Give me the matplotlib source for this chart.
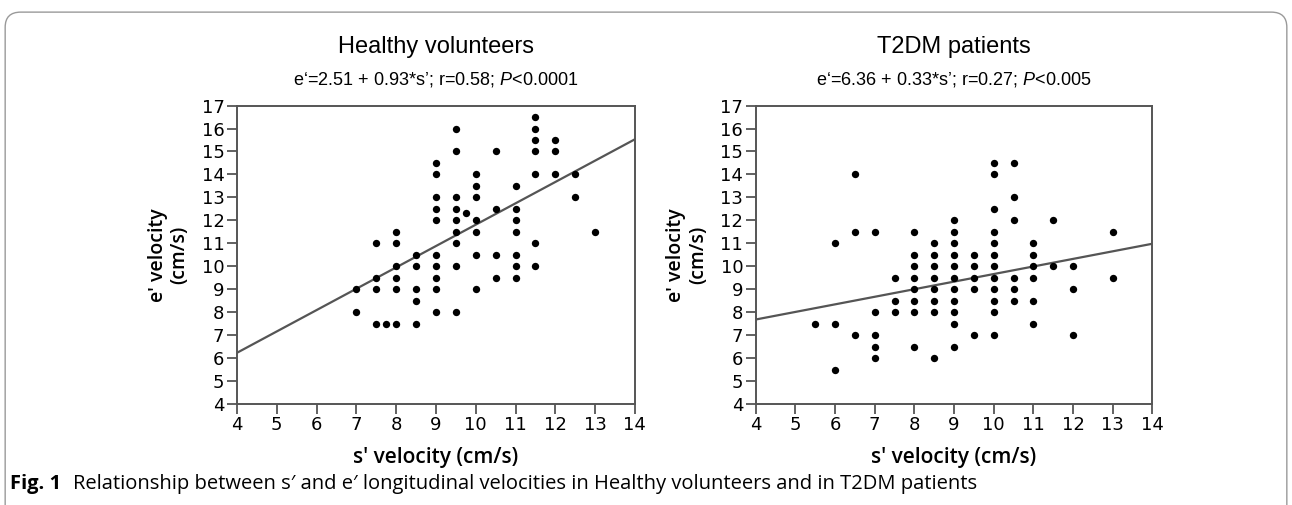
import matplotlib
matplotlib.use('Agg')
import matplotlib.pyplot as plt
from matplotlib.patches import FancyBboxPatch
import numpy as np

# Healthy volunteers: s' values and e' values
hv_s = [7, 7,
        7.5, 7.5, 7.5, 7.5, 7.75,
        8, 8, 8, 8, 8, 8,
        8.5, 8.5, 8.5, 8.5, 8.5,
        9, 9, 9, 9, 9, 9, 9, 9, 9, 9,
        9.5, 9.5, 9.5, 9.5, 9.5, 9.5, 9.5, 9.5, 9.5,
        9.75,
        10, 10, 10, 10, 10, 10, 10,
        10.5, 10.5, 10.5, 10.5,
        11, 11, 11, 11, 11, 11, 11,
        11.5, 11.5, 11.5, 11.5, 11.5, 11.5, 11.5,
        12, 12, 12,
        12.5, 12.5,
        13]
hv_e = [9, 8,
        11, 9.5, 9, 7.5, 7.5,
        11.5, 11, 10, 9.5, 9, 7.5,
        10.5, 10, 9, 8.5, 7.5,
        14.5, 14, 13, 12.5, 12, 10.5, 10, 9.5, 9, 8,
        16, 15, 13, 12.5, 12, 11.5, 11, 10, 8,
        12.3,
        14, 13.5, 13, 12, 11.5, 10.5, 9,
        15, 12.5, 10.5, 9.5,
        13.5, 12.5, 12, 11.5, 10.5, 10, 9.5,
        16.5, 16, 15.5, 15, 14, 11, 10,
        15.5, 15, 14,
        14, 13,
        11.5]

# T2DM patients
dm_s = [5.5,
        6, 6, 6,
        6.5, 6.5, 6.5,
        7, 7, 7, 7, 7,
        7.5, 7.5, 7.5,
        8, 8, 8, 8, 8, 8, 8, 8,
        8.5, 8.5, 8.5, 8.5, 8.5, 8.5, 8.5, 8.5,
        9, 9, 9, 9, 9, 9, 9, 9, 9, 9, 9,
        9.5, 9.5, 9.5, 9.5, 9.5,
        10, 10, 10, 10, 10, 10, 10, 10, 10, 10, 10, 10,
        10.5, 10.5, 10.5, 10.5, 10.5, 10.5,
        11, 11, 11, 11, 11, 11,
        11.5, 11.5,
        12, 12, 12,
        13, 13]
dm_e = [7.5,
        11, 7.5, 5.5,
        14, 11.5, 7,
        11.5, 8, 7, 6.5, 6,
        9.5, 8.5, 8,
        11.5, 10.5, 10, 9.5, 9, 8.5, 8, 6.5,
        11, 10.5, 10, 9.5, 9, 8.5, 8, 6,
        12, 11.5, 11, 10.5, 10, 9.5, 9, 8.5, 8, 7.5, 6.5,
        10.5, 10, 9.5, 9, 7,
        14.5, 14, 12.5, 11.5, 11, 10.5, 10, 9.5, 9, 8.5, 8, 7,
        14.5, 13, 12, 9.5, 9, 8.5,
        11, 10.5, 10, 9.5, 8.5, 7.5,
        12, 10,
        10, 9, 7,
        11.5, 9.5]

# regression coefficients (intercept, slope) from the panel subtitles
hv_fit = (2.51, 0.93)
dm_fit = (6.36, 0.33)

titles = ["Healthy volunteers", "T2DM patients"]
subtitles = ["e\u2018=2.51 + 0.93*s\u2019; r=0.58; $P$<0.0001",
             "e\u2018=6.36 + 0.33*s\u2019; r=0.27; $P$<0.005"]

x_ticks = list(range(4, 15))
y_ticks = list(range(4, 18))

plt.rcParams['font.family'] = ['DejaVu Sans']
plt.rcParams['mathtext.fontset'] = 'custom'
plt.rcParams['mathtext.rm'] = 'Liberation Sans'
plt.rcParams['mathtext.it'] = 'Liberation Sans:italic'

fig = plt.figure(figsize=(12.92, 5.05), dpi=100)

# rounded border around the figure
border = FancyBboxPatch((0.004, -0.05), 0.992, 1.026,
                        boxstyle="round,pad=0,rounding_size=0.012",
                        transform=fig.transFigure, fill=False,
                        edgecolor='#9a9a9a', linewidth=1.0, mutation_aspect=2.5)
fig.patches.append(border)

ax_pos = [[0.1834, 0.200, 0.3080, 0.591],
          [0.5849, 0.200, 0.3070, 0.591]]
panels = [(hv_s, hv_e, hv_fit), (dm_s, dm_e, dm_fit)]

for i, (s, e, fit) in enumerate(panels):
    ax = fig.add_axes(ax_pos[i])
    ax.scatter(s, e, s=28, color='black', zorder=3, linewidths=0)
    xl = np.array([4, 14])
    ax.plot(xl, fit[0] + fit[1] * xl, color='#555555', linewidth=1.6, zorder=2)
    ax.set_xlim(4, 14)
    ax.set_ylim(4, 17)
    ax.set_xticks(x_ticks)
    ax.set_yticks(y_ticks)
    ax.tick_params(direction='out', length=7, width=1.3, color='#555555',
                   labelsize=13, pad=2)
    for sp in ax.spines.values():
        sp.set_color('#555555')
        sp.set_linewidth(1.4)
    ax.set_xlabel("s' velocity (cm/s)", fontsize=15, family='Open Sans',
                  fontweight='semibold', labelpad=9)
    ax.set_ylabel("e' velocity\n(cm/s)", fontsize=14, family='Open Sans',
                  fontweight='semibold', labelpad=9, linespacing=1.1)
    cx = ax_pos[i][0] + ax_pos[i][2] / 2
    fig.text(cx, 0.907, titles[i], ha='center', va='center', fontsize=17,
             family='Liberation Sans')
    fig.text(cx, 0.842, subtitles[i], ha='center', va='center', fontsize=13,
             family='Liberation Sans')

# caption: bold "Fig. 1" followed by normal text
t1 = fig.text(0.008, 0.042, "Fig. 1", fontsize=14.5, fontweight='bold',
              family='Open Sans', va='center')
fig.canvas.draw()
bb = t1.get_window_extent()
x2 = (bb.x1 + 12) / fig.bbox.width
fig.text(x2, 0.042,
         "Relationship between s\u2032 and e\u2032 longitudinal velocities in Healthy volunteers and in T2DM patients",
         fontsize=14.5, family='Open Sans', va='center')

plt.savefig("out.png", dpi=100)
